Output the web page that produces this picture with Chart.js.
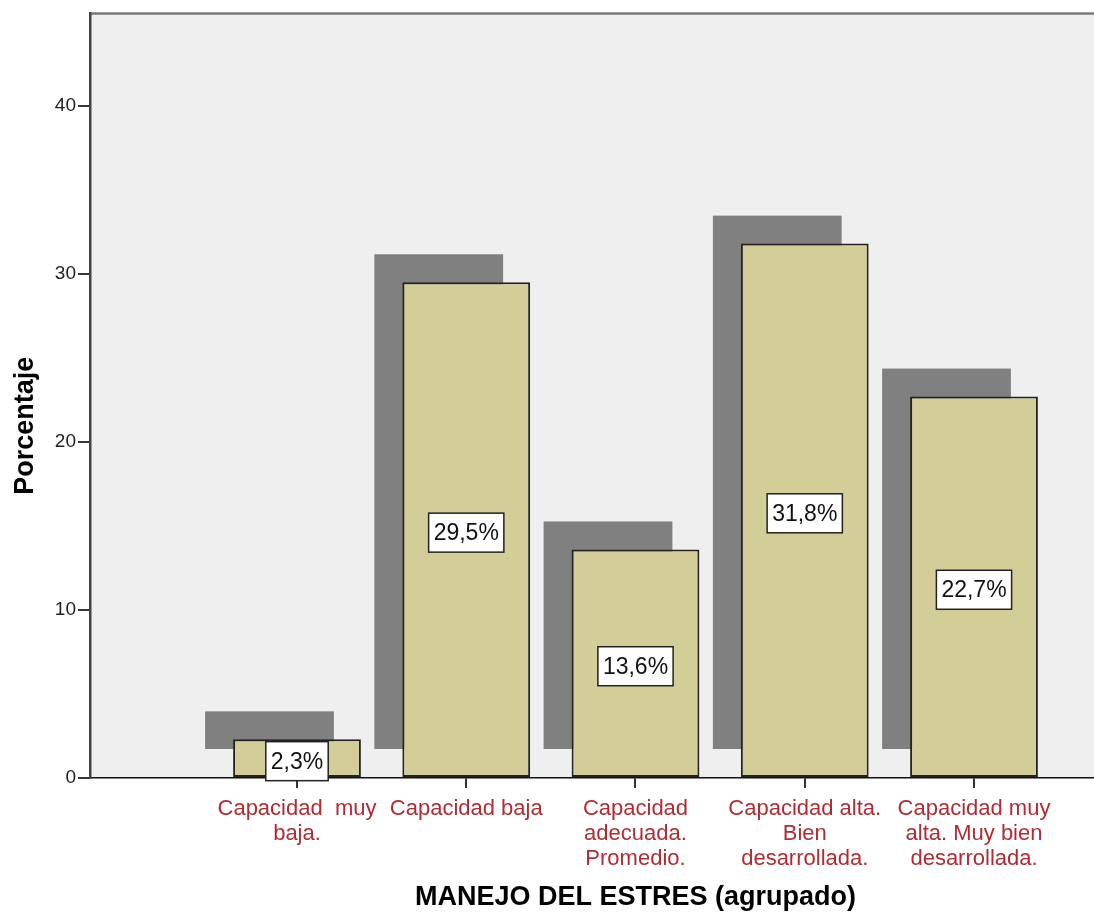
<!DOCTYPE html>
<html><head><meta charset="utf-8">
<script src="https://cdn.jsdelivr.net/npm/chart.js@4"></script>
<style>html,body{margin:0;padding:0;background:#fff;overflow:hidden}</style>
</head><body>
<canvas id="c" width="1094" height="914"></canvas>
<script>
const categories = [["Capacidad  muy","baja."],"Capacidad baja",["Capacidad","adecuada.","Promedio."],["Capacidad alta.","Bien","desarrollada."],["Capacidad muy","alta. Muy bien","desarrollada."]];
const positions = [1,2,3,4,5];
const percentages = [2.3, 29.5, 13.6, 31.8, 22.7];
const yTickValues = [0,10,20,30,40];
const xTitle = 'MANEJO DEL ESTRES (agrupado)';
const yTitle = 'Porcentaje';

const FONT = '"Liberation Sans", Arial, sans-serif';

const bgPlugin = {
  id: 'bg',
  beforeDraw(chart) {
    const {ctx, chartArea: a} = chart;
    ctx.save();
    ctx.fillStyle = '#efefef';
    ctx.fillRect(a.left, a.top, a.right - a.left, a.bottom - a.top);
    ctx.strokeStyle = '#7a7a7a';
    ctx.lineWidth = 2.5;
    ctx.beginPath(); ctx.moveTo(a.left, a.top); ctx.lineTo(a.right, a.top); ctx.stroke();
    ctx.restore();
  }
};
const shadowPlugin = {
  id: 'shadow',
  beforeDatasetsDraw(chart) {
    const ctx = chart.ctx;
    const meta = chart.getDatasetMeta(0);
    ctx.save();
    ctx.fillStyle = '#808080';
    meta.data.forEach(b => {
      const p = b.getProps(['x','y','base','width'], true);
      ctx.fillRect(p.x - p.width/2 - 28, p.y - 28, p.width + 1, p.base - p.y);
    });
    ctx.restore();
  }
};
const labelPlugin = {
  id: 'vlabels',
  afterDatasetsDraw(chart) {
    const ctx = chart.ctx;
    const meta = chart.getDatasetMeta(0);
    ctx.save();
    ctx.font = '23px ' + FONT;
    ctx.textAlign = 'center';
    ctx.textBaseline = 'middle';
    meta.data.forEach((b, i) => {
      const p = b.getProps(['x','y','base'], true);
      const txt = percentages[i].toFixed(1).replace('.', ',') + '%';
      const w = ctx.measureText(txt).width + 10;
      const h = 39;
      const cx = p.x, cy = (p.y + p.base)/2 + 3;
      ctx.fillStyle = '#ffffff';
      ctx.fillRect(cx - w/2, cy - h/2, w, h);
      ctx.strokeStyle = '#222';
      ctx.lineWidth = 1.5;
      ctx.strokeRect(cx - w/2, cy - h/2, w, h);
      ctx.fillStyle = '#111';
      ctx.fillText(txt, cx, cy + 1);
    });
    ctx.restore();
  }
};
const titlePlugin = {
  id: 'axtitles',
  afterDraw(chart) {
    const ctx = chart.ctx;
    const xs = chart.scales.x;
    const a = chart.chartArea;
    ctx.save();
    ctx.fillStyle = '#000';
    ctx.font = 'bold 27px ' + FONT;
    ctx.textAlign = 'center';
    ctx.textBaseline = 'middle';
    const cx = (xs.getPixelForValue(positions[0]) + xs.getPixelForValue(positions[positions.length-1]))/2;
    ctx.fillText(xTitle, cx, 898);
    ctx.translate(26, (a.top + a.bottom)/2 + 30);
    ctx.rotate(-Math.PI/2);
    ctx.fillText(yTitle, 0, 0);
    ctx.restore();
  }
};

new Chart(document.getElementById('c'), {
  type: 'bar',
  data: {
    datasets: [{
      data: positions.map((x, i) => ({x: x, y: percentages[i]})),
      backgroundColor: '#d3cd97',
      borderColor: '#222',
      borderWidth: 2,
      borderSkipped: false,
      barPercentage: 0.755,
      categoryPercentage: 1
    }]
  },
  options: {
    responsive: false,
    animation: false,
    devicePixelRatio: 1,
    layout: {padding: {top: 12, right: 0, left: 0, bottom: 0}},
    plugins: {legend: {display: false}, tooltip: {enabled: false}},
    scales: {
      x: {
        type: 'linear',
        offset: false,
        min: -0.223,
        max: 5.709,
        afterBuildTicks: s => { s.ticks = positions.map(v => ({value: v})); },
        afterFit: s => { s.height = 136; },
        ticks: {
          callback: v => categories[v - 1],
          autoSkip: false, maxRotation: 0, minRotation: 0,
          color: '#b22b32',
          font: {family: FONT, size: 22, lineHeight: 1.14},
          padding: 8
        },
        grid: {offset: false, drawOnChartArea: false, tickLength: 10, color: '#333', lineWidth: 2},
        border: {color: '#111', width: 1.5}
      },
      y: {
        min: 0,
        max: 45.5,
        afterBuildTicks: s => { s.ticks = yTickValues.map(v => ({value: v})); },
        afterFit: s => { s.width = 90; },
        ticks: {color: '#222', font: {family: FONT, size: 19}, padding: 2},
        grid: {drawOnChartArea: false, tickLength: 12, color: '#333', lineWidth: 2},
        border: {color: '#444', width: 2.5}
      }
    }
  },
  plugins: [bgPlugin, shadowPlugin, labelPlugin, titlePlugin]
});
</script>
</body></html>
